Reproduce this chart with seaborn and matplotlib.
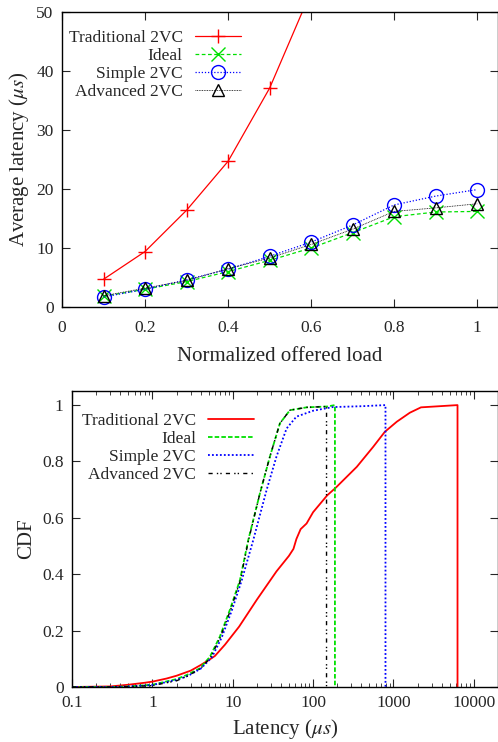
import matplotlib
matplotlib.use('Agg')
import matplotlib.pyplot as plt
import seaborn as sns
import numpy as np

# ---- top panel: average latency vs offered load ----
load = [0.1, 0.2, 0.3, 0.4, 0.5, 0.6, 0.7, 0.8, 0.9, 1.0]
trad_avg = [4.7, 9.4, 16.4, 24.7, 37.1, 53.5]
ideal_avg = [1.8, 3.0, 4.3, 6.0, 7.9, 10.0, 12.6, 15.3, 16.1, 16.2]
simple_avg = [1.7, 3.0, 4.6, 6.4, 8.6, 11.0, 13.9, 17.3, 18.8, 19.9]
adv_avg = [1.9, 3.2, 4.5, 6.5, 8.3, 10.6, 13.2, 16.2, 16.8, 17.5]

# ---- bottom panel: latency CDF ----
trad_lat = [0.1, 0.3, 0.5, 0.8, 1, 1.5, 2, 3, 4, 5, 6, 8, 12, 20, 35, 50, 57, 62, 70, 83,
            100, 150, 190, 350, 560, 780, 1100, 1600, 2200, 6270, 6270]
trad_cdf = [0, 0.002, 0.008, 0.015, 0.019, 0.03, 0.04, 0.058, 0.078, 0.095, 0.11, 0.15, 0.214,
            0.31, 0.41, 0.465, 0.49, 0.525, 0.56, 0.58, 0.62, 0.68, 0.706, 0.781, 0.852, 0.905,
            0.941, 0.973, 0.992, 1.0, 0.0]
ideal_lat = [0.1, 0.3, 0.5, 1, 2, 2.7, 3.9, 5.2, 6.9, 9.2, 12.3, 15.6, 21.8, 29, 38.6, 51.5,
             83, 150, 187, 187]
ideal_cdf = [0, 0.0, 0.002, 0.008, 0.028, 0.043, 0.066, 0.107, 0.178, 0.273, 0.379, 0.521,
             0.687, 0.817, 0.935, 0.982, 0.992, 0.995, 1.0, 0.0]
simple_lat = [0.1, 0.3, 0.5, 1, 2, 2.8, 4, 5.5, 7.3, 9.7, 12.9, 18, 26.4, 35, 46.8, 62, 100,
              176, 400, 796, 796]
simple_cdf = [0, 0, 0.002, 0.007, 0.025, 0.04, 0.065, 0.105, 0.176, 0.27, 0.377, 0.521, 0.699,
              0.817, 0.917, 0.959, 0.98, 0.993, 0.996, 1.0, 0]
adv_lat = [0.1, 0.3, 0.5, 1, 2, 2.7, 4, 5.3, 7, 9.3, 12.4, 15.7, 21.8, 29, 38.6, 51.5, 83,
           147, 147]
adv_cdf = [0, 0, 0.001, 0.005, 0.022, 0.038, 0.066, 0.105, 0.176, 0.27, 0.377, 0.52, 0.687,
           0.817, 0.935, 0.982, 0.992, 0.995, 0]

names = ['Traditional 2VC', 'Ideal', 'Simple 2VC', 'Advanced 2VC']

sns.set_style('ticks')
plt.rcParams['font.family'] = ['Liberation Serif', 'DejaVu Serif']
plt.rcParams['mathtext.fontset'] = 'stix'
plt.rcParams['axes.linewidth'] = 1.0
plt.rcParams['axes.edgecolor'] = 'black'

fs_tick = 12.5
fs_label = 15

fig = plt.figure(figsize=(4.98, 7.42), dpi=100)
ax1 = fig.add_axes([62 / 498, 1 - 307 / 742, 436 / 498, 295 / 742])
ax2 = fig.add_axes([72 / 498, 1 - 687 / 742, 426 / 498, 296 / 742])

# top
common = dict(sort=False, estimator=None, linewidth=0.9, markersize=10, markeredgewidth=1.0,
              markerfacecolor='none')
sns.lineplot(x=load[:len(trad_avg)], y=trad_avg, ax=ax1, color='red', linestyle='-', marker='+',
             markeredgecolor='red', label=names[0], **common)
sns.lineplot(x=load, y=ideal_avg, ax=ax1, color='#00e000', linestyle=(0, (3, 2)), marker='x',
             markeredgecolor='#00e000', label=names[1], **common)
sns.lineplot(x=load, y=simple_avg, ax=ax1, color='blue', linestyle=(0, (1, 1.5)), marker='o',
             markeredgecolor='blue', label=names[2], **common)
sns.lineplot(x=load, y=adv_avg, ax=ax1, color='black', linestyle=(0, (1, 1)), marker='^',
             markeredgecolor='black', label=names[3],
             **{**common, 'linewidth': 0.6, 'markersize': 9})

ax1.set_xlim(0, 1.05)
ax1.set_ylim(0, 50)
ax1.set_xticks([0, 0.2, 0.4, 0.6, 0.8, 1.0])
ax1.set_xticklabels(['0', '0.2', '0.4', '0.6', '0.8', '1'])
ax1.set_yticks([0, 10, 20, 30, 40, 50])
ax1.set_xlabel('Normalized offered load', fontsize=fs_label, labelpad=8)
ax1.set_ylabel(r'Average latency ($\mu s$)', fontsize=fs_label)
ax1.tick_params(axis='x', pad=9)
ax1.tick_params(direction='in', top=True, right=True, length=6, width=0.8,
                labelsize=fs_tick)
ax1.tick_params(axis='y', pad=6)
ax1.legend(loc='upper left', bbox_to_anchor=(0.015, 0.938), frameon=False, markerfirst=False,
           fontsize=fs_tick, handlelength=2.65, handletextpad=0.7, labelspacing=0.1,
           borderpad=0, borderaxespad=0)

# bottom
common2 = dict(sort=False, estimator=None)
sns.lineplot(x=trad_lat, y=trad_cdf, ax=ax2, color='red', linestyle='-', linewidth=1.3,
             label=names[0], **common2)
sns.lineplot(x=ideal_lat, y=ideal_cdf, ax=ax2, color='#00e000', linestyle=(0, (2.5, 1.2)),
             linewidth=1.3, label=names[1], **common2)
sns.lineplot(x=simple_lat, y=simple_cdf, ax=ax2, color='blue', linestyle=(0, (1, 1.2)),
             linewidth=1.3, label=names[2], **common2)
sns.lineplot(x=adv_lat, y=adv_cdf, ax=ax2, color='black', linestyle=(0, (3, 3, 1, 1.5, 1, 3)),
             linewidth=1.0, label=names[3], **common2)

ax2.set_xscale('log')
ax2.set_xlim(0.1, 20000)
ax2.set_ylim(0, 1.05)
ax2.set_xticks([0.1, 1, 10, 100, 1000, 10000])
ax2.set_xticklabels(['0.1', '1', '10', '100', '1000', '10000'])
ax2.set_yticks([0, 0.2, 0.4, 0.6, 0.8, 1.0])
ax2.set_yticklabels(['0', '0.2', '0.4', '0.6', '0.8', '1'])
ax2.set_xlabel(r'Latency ($\mu s$)', fontsize=fs_label)
ax2.set_ylabel('CDF', fontsize=fs_label)
ax2.tick_params(which='major', direction='in', top=True, right=True, length=6, width=0.8,
                labelsize=fs_tick, pad=6)
ax2.tick_params(which='minor', direction='in', top=True, right=True, length=3, width=0.6)
ax2.legend(loc='upper left', bbox_to_anchor=(0.023, 0.926), frameon=False, markerfirst=False,
           fontsize=fs_tick, handlelength=2.65, handletextpad=0.7, labelspacing=0.1,
           borderpad=0, borderaxespad=0)

for ax in (ax1, ax2):
    for s in ax.spines.values():
        s.set_visible(True)
        s.set_linewidth(1.0)

fig.savefig('out.png', dpi=100)
